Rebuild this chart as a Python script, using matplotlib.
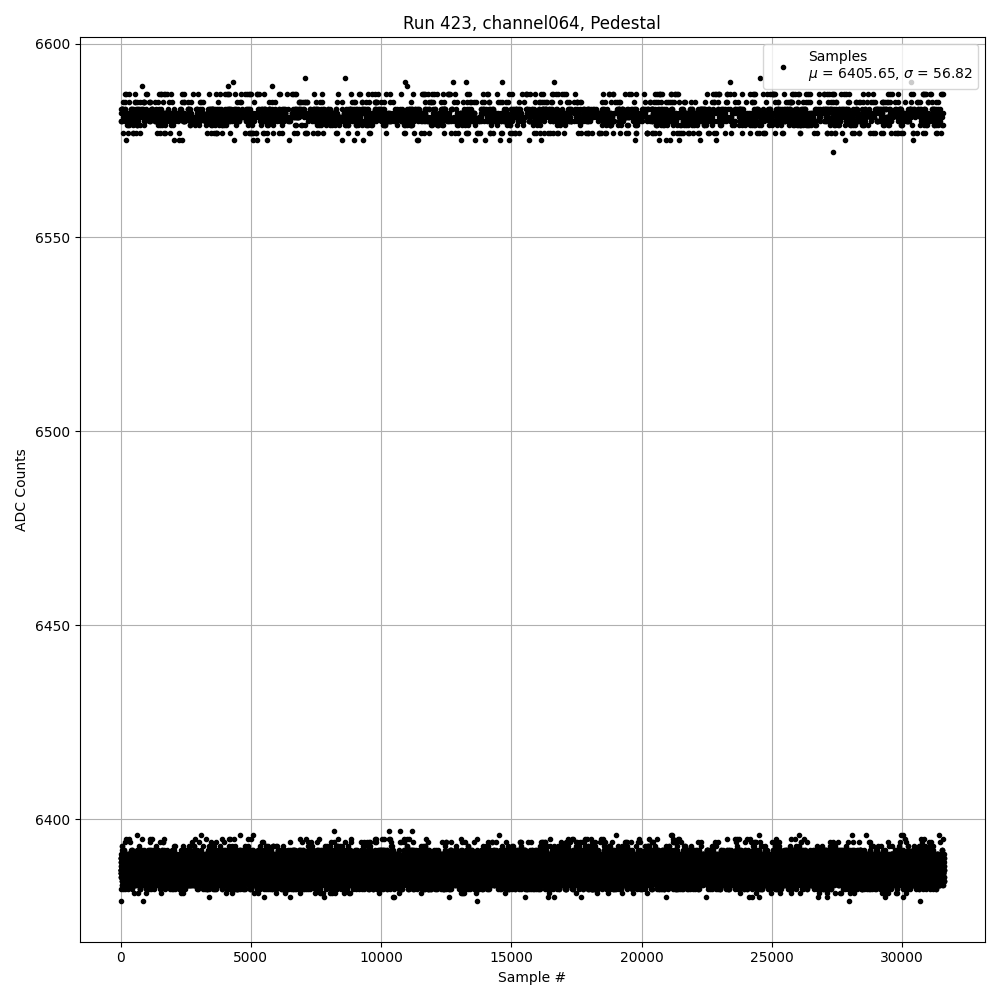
import numpy as np
from matplotlib import pyplot as plt

# ADC levels seen in the pedestal run and how many samples sit on each
lower_levels = [6379, 6380, 6381, 6382, 6383, 6384, 6385, 6386, 6387, 6388,
                6389, 6390, 6391, 6392, 6393, 6394, 6395, 6396, 6397]
lower_counts = [5, 20, 60, 400, 1100, 2400, 3600, 4200, 4400, 4200,
                3600, 2500, 1320, 500, 150, 120, 60, 15, 4]

upper_levels = [6572, 6575, 6577, 6579, 6580, 6581, 6582, 6583, 6585, 6587,
                6589, 6590, 6591]
upper_counts = [1, 30, 170, 200, 500, 600, 600, 450, 200, 180, 4, 8, 3]

title = "Run 423, channel064, Pedestal"
mu, sigma = 6405.65, 56.82

values = np.repeat(lower_levels + upper_levels, lower_counts + upper_counts).astype(float)
n = values.size

# scatter the samples over the run with a fixed integer hash ordering (deterministic)
with np.errstate(over='ignore'):
    h = np.arange(n, dtype=np.uint64) * np.uint64(0x9E3779B97F4A7C15)
    h ^= h >> np.uint64(30)
    h *= np.uint64(0xBF58476D1CE4E5B9)
    h ^= h >> np.uint64(27)
    h *= np.uint64(0x94D049BB133111EB)
    h ^= h >> np.uint64(31)
adc = values[np.argsort(h)]
sample = np.arange(n)

fig, ax = plt.subplots(figsize=(10, 10))
ax.plot(sample, adc, '.', color='k',
        label=f"Samples\n$\\mu$ = {mu:.2f}, $\\sigma$ = {sigma:.2f}")
ax.set_title(title)
ax.set_xlabel("Sample #")
ax.set_ylabel("ADC Counts")
ax.grid(True)
ax.legend(loc='upper right')
plt.tight_layout()
plt.savefig("out.png", dpi=100)
